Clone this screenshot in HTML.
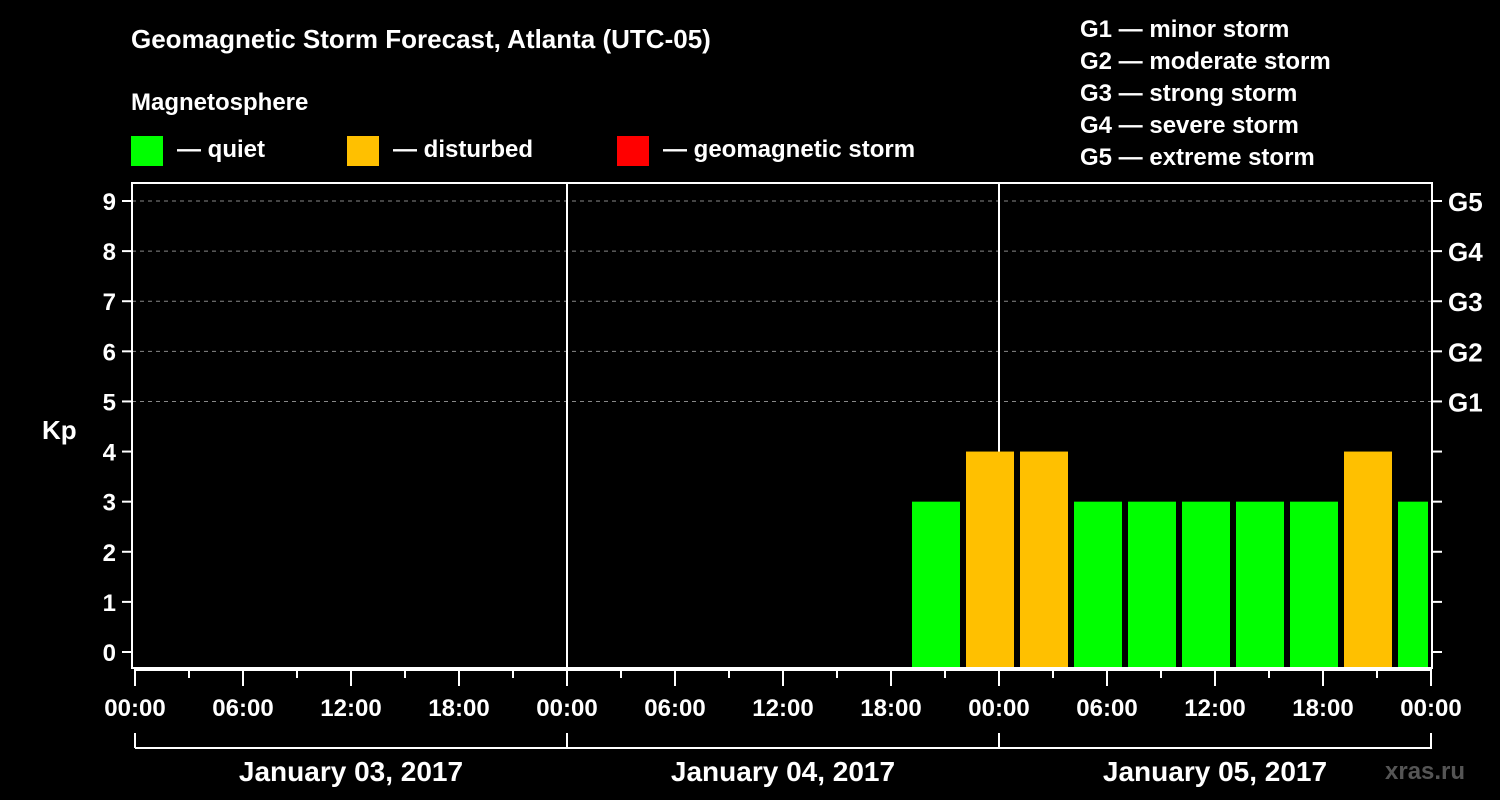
<!DOCTYPE html>
<html><head><meta charset="utf-8"><style>
html,body{margin:0;padding:0;background:#000;}
svg{display:block;font-family:"Liberation Sans",Arial,sans-serif;font-weight:bold;}
</style></head><body>
<svg id="c" width="1500" height="800" viewBox="0 0 1500 800">
<text x="131" y="48" font-size="26" fill="#fff">Geomagnetic Storm Forecast, Atlanta (UTC-05)</text>
<text x="131" y="110" font-size="24" fill="#fff">Magnetosphere</text>
<g><rect x="131" y="136" width="32" height="30" fill="#00ff00"/><text x="177" y="157" font-size="24" fill="#fff">— quiet</text></g>
<g><rect x="347" y="136" width="32" height="30" fill="#ffc000"/><text x="393" y="157" font-size="24" fill="#fff">— disturbed</text></g>
<g><rect x="617" y="136" width="32" height="30" fill="#ff0000"/><text x="663" y="157" font-size="24" fill="#fff">— geomagnetic storm</text></g>
<g font-size="24" fill="#fff">
<text x="1080" y="37">G1 — minor storm</text>
<text x="1080" y="69">G2 — moderate storm</text>
<text x="1080" y="101">G3 — strong storm</text>
<text x="1080" y="133">G4 — severe storm</text>
<text x="1080" y="165">G5 — extreme storm</text>
</g>
<text x="42" y="439" font-size="26" fill="#fff">Kp</text>
<text x="1385" y="779" font-size="24" fill="#555">xras.ru</text>
<g id="grid"></g><g id="bars"></g><g id="axes"></g>
</svg>
<script>
const kpValues=[3,4,4,3,3,3,3,3,4,3];
const startHourLocal=[19,22,25,28,31,34,37,40,43,46]; // hours after Jan 04 00:00 local
const dayLabels=["January 03, 2017","January 04, 2017","January 05, 2017"];
const hourLabels=["00:00","06:00","12:00","18:00"];
const gLabels=["G1","G2","G3","G4","G5"];
const NS="http://www.w3.org/2000/svg";
const L=132,R=1432,T=183,B=668,X0=135,DAY=432;
const x=h=>X0+h*DAY/24;
const y=v=>652-v*(451/9);
function el(p,t,a,txt){const e=document.createElementNS(NS,t);for(const k in a)e.setAttribute(k,a[k]);if(txt!==undefined)e.textContent=txt;p.appendChild(e);return e;}
const grid=document.getElementById('grid'),bars=document.getElementById('bars'),axes=document.getElementById('axes');
for(let v=5;v<=9;v++){const ln=el(grid,'line',{x1:L,x2:R,y1:y(v),y2:y(v),stroke:'#888','stroke-dasharray':'4,4','stroke-width':1});

}
for(let d=1;d<=2;d++){const ln=el(grid,'line',{x1:x(24*d),x2:x(24*d),y1:T,y2:B,stroke:'#fff','stroke-width':2});

}
kpValues.forEach((v,i)=>{const x1=x(24+startHourLocal[i])+3;let x2=x(24+startHourLocal[i]+3)-3;x2=Math.min(x2,R-4);
const r=el(bars,'rect',{x:x1,y:y(v),width:x2-x1,height:B-y(v),fill:v>=5?'#ff0000':(v>=4?'#ffc000':'#00ff00')});

});
const fr=el(axes,'rect',{x:L,y:T,width:R-L,height:B-T,fill:'none',stroke:'#fff','stroke-width':2});


for(let v=0;v<=9;v++){el(axes,'line',{x1:122,x2:L,y1:y(v),y2:y(v),stroke:'#fff','stroke-width':2});
const t=el(axes,'text',{x:116,y:y(v)+9,'font-size':24,fill:'#fff','text-anchor':'end'},String(v));


el(axes,'line',{x1:R,x2:R+10,y1:y(v),y2:y(v),stroke:'#fff','stroke-width':2});}
gLabels.forEach((g,i)=>{const t=el(axes,'text',{x:1448,y:y(5+i)+10,'font-size':26,fill:'#fff'},g);

});
el(axes,'line',{x1:X0-1,x2:R,y1:670,y2:670,stroke:'#fff','stroke-width':2});
for(let h=0;h<=72;h+=3){const maj=h%6===0;el(axes,'line',{x1:x(h),x2:x(h),y1:670,y2:maj?686:678,stroke:'#fff','stroke-width':2});
if(maj){const t=el(axes,'text',{x:x(h),y:716,'font-size':24,fill:'#fff','text-anchor':'middle'},h%24===0?"00:00":hourLabels[(h%24)/6]);

}}
el(axes,'line',{x1:X0,x2:R,y1:748,y2:748,stroke:'#fff','stroke-width':2});
for(let d=0;d<=3;d++)el(axes,'line',{x1:x(24*d),x2:x(24*d),y1:733,y2:748,stroke:'#fff','stroke-width':2});
dayLabels.forEach((s,i)=>{const t=el(axes,'text',{x:x(24*i+12),y:781,'font-size':28,fill:'#fff','text-anchor':'middle'},s);

});
</script>
</body></html>
